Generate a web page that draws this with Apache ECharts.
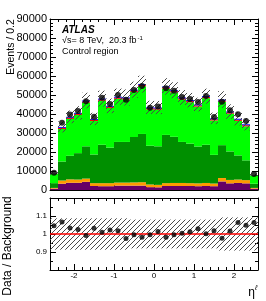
<!DOCTYPE html>
<html><head><meta charset="utf-8">
<script src="https://cdn.jsdelivr.net/npm/echarts@6/dist/echarts.min.js"></script>
<style>html,body{margin:0;padding:0;background:#fff}#c{width:266px;height:301px}</style>
</head><body><div id="c"></div>
<script>
// ---- data ----
const binEdges = [-2.6,-2.4,-2.2,-2.0,-1.8,-1.6,-1.4,-1.2,-1.0,-0.8,-0.6,-0.4,-0.2,0.0,0.2,0.4,0.6,0.8,1.0,1.2,1.4,1.6,1.8,2.0,2.2,2.4,2.6];
const dataEvents = [9100,35400,39800,41600,46700,38600,48600,45300,50000,47500,52600,54700,43300,44000,53500,52300,48900,47900,46300,49500,38400,46500,42000,39900,36300,8400];
const bkgPurple = [700,3300,3800,3800,4300,2100,2000,2000,2300,2300,2300,2300,1500,1400,2100,2100,2100,2100,2000,2100,2000,4500,3500,3700,3500,700];
const bkgOrange = [400,1700,1800,1700,1700,1500,1600,1600,1600,1600,1700,1800,1400,1300,1500,1600,1600,1500,1500,1600,1400,1800,1800,1800,1700,400];
const bkgDarkGreen = [2500,10000,12400,13900,17000,15100,20200,18700,21400,21400,23900,25400,20400,20300,25400,24300,21600,20800,19400,20100,15100,17300,15000,12700,10400,2200];
const bkgGreen = [4900,17100,19400,20100,23000,17600,23200,20900,22700,22300,23800,25100,19100,19300,24400,23400,22300,21800,21000,24500,18100,22900,19900,18200,17900,4400];
const bkgRed = [100,600,600,600,600,600,600,600,600,600,600,600,600,600,600,600,600,600,600,600,600,600,600,600,600,100];
const bkgBlue = [100,500,500,500,500,500,500,500,500,500,500,500,500,500,500,500,500,500,500,500,500,500,500,500,500,100];
const bkgRelUnc = [0.087,0.087,0.087,0.087,0.087,0.087,0.087,0.087,0.087,0.087,0.08,0.08,0.08,0.08,0.08,0.08,0.08,0.08,0.08,0.08,0.08,0.092,0.092,0.092,0.092,0.092];
const xTickLabels = [-2,-1,0,1,2];
const ratioTickLabels = [0.9,1,1.1];

// ---- build ----
const nb = dataEvents.length;
const layers = [
  {vals: bkgPurple, color: '#660066'},
  {vals: bkgOrange, color: '#ff9900'},
  {vals: bkgDarkGreen, color: '#008f00'},
  {vals: bkgGreen, color: '#00ff00'},
  {vals: bkgRed, color: '#ff0000'},
  {vals: bkgBlue, color: '#0000ff'}
];
const cum = new Array(nb).fill(0);
const layerData = layers.map(l => l.vals.map((v, i) => {
  const b = cum[i]; cum[i] += v;
  return [binEdges[i], binEdges[i+1], b, cum[i]];
}));
const total = cum.slice();
const centers = dataEvents.map((_, i) => (binEdges[i] + binEdges[i+1]) / 2);
const hatchMain = total.map((t, i) => [binEdges[i], binEdges[i+1], t*(1-bkgRelUnc[i]), t*(1+bkgRelUnc[i])]);
const hatchRatio = total.map((t, i) => [binEdges[i], binEdges[i+1], 1-bkgRelUnc[i], 1+bkgRelUnc[i]]);
const ratio = dataEvents.map((d, i) => [centers[i], d / total[i]]);

function makeHatch() {
  const n = 5;
  const c = document.createElement('canvas'); c.width = n; c.height = n;
  const g = c.getContext('2d'); g.fillStyle = '#4a4a4a';
  for (let i = 0; i < n; i++) g.fillRect(i, n - 1 - i, 1, 1);
  return c;
}
const hatchFill = {image: makeHatch(), repeat: 'repeat'};

function rectRenderer(fill) {
  return function (params, api) {
    const p0 = api.coord([api.value(0), api.value(3)]);
    const p1 = api.coord([api.value(1), api.value(2)]);
    const x0 = Math.round(p0[0]), x1 = Math.round(p1[0]);
    return {type: 'rect', shape: {x: x0, y: p0[1], width: x1 - x0, height: p1[1] - p0[1]},
            style: {fill: fill, stroke: null}};
  };
}

const FONT = '"Liberation Sans", Arial, sans-serif';
function xAx(grid, pos, labels) {
  return {type: 'value', gridIndex: grid, position: pos, min: -2.6, max: 2.6, splitNumber: 5,
    axisLine: {show: true, onZero: false, lineStyle: {color: '#000', width: 1}},
    axisTick: {show: true, inside: true, length: 6, lineStyle: {color: '#000', width: 1}},
    minorTick: {show: true, splitNumber: 5, length: 3, lineStyle: {color: '#000', width: 1}},
    splitLine: {show: false},
    axisLabel: {show: labels, fontSize: 8, fontFamily: FONT, color: '#000', margin: 2,
      formatter: v => xTickLabels.some(t => Math.abs(t - v) < 1e-6) ? String(Math.round(v)) : ''}
  };
}
function yAx(grid, pos, labels, min, max, interval, minorSplit, fs, fmt) {
  return {type: 'value', gridIndex: grid, position: pos, min: min, max: max, interval: interval,
    axisLine: {show: true, onZero: false, lineStyle: {color: '#000', width: 1}},
    axisTick: {show: true, inside: true, length: 6, lineStyle: {color: '#000', width: 1}},
    minorTick: {show: true, splitNumber: minorSplit, length: 3, lineStyle: {color: '#000', width: 1}},
    splitLine: {show: false},
    axisLabel: {show: labels, fontSize: fs, fontFamily: FONT, color: '#000', margin: 3, formatter: fmt}
  };
}

const series = [];
layers.forEach((l, k) => {
  series.push({type: 'custom', xAxisIndex: 0, yAxisIndex: 0, renderItem: rectRenderer(l.color),
    data: layerData[k], z: 2 + k, clip: true, silent: true, animation: false});
});
series.push({type: 'custom', xAxisIndex: 0, yAxisIndex: 0, renderItem: rectRenderer(hatchFill),
  data: hatchMain, z: 10, clip: true, silent: true, animation: false});
series.push({type: 'scatter', xAxisIndex: 0, yAxisIndex: 0, symbol: 'circle', symbolSize: 6,
  itemStyle: {color: '#000'}, data: dataEvents.map((d, i) => [centers[i], d]), z: 12, animation: false});
series.push({type: 'custom', xAxisIndex: 2, yAxisIndex: 2, renderItem: rectRenderer(hatchFill),
  data: hatchRatio, z: 3, clip: true, silent: true, animation: false});
series.push({type: 'line', xAxisIndex: 2, yAxisIndex: 2, data: [[binEdges[0], 1], [binEdges[nb], 1]],
  symbol: 'none', lineStyle: {color: '#ff0000', width: 1.5}, z: 5, animation: false});
series.push({type: 'scatter', xAxisIndex: 2, yAxisIndex: 2, symbol: 'circle', symbolSize: 5,
  itemStyle: {color: '#000'}, data: ratio, z: 12, animation: false});

const chart = echarts.init(document.getElementById('c'), null, {renderer: 'canvas'});
chart.setOption({
  backgroundColor: '#fff',
  animation: false,
  grid: [
    {left: 50, top: 19, width: 208, height: 171, containLabel: false, outerBoundsMode: 'none'},
    {left: 50, top: 198, width: 208, height: 72, containLabel: false, outerBoundsMode: 'none'}
  ],
  xAxis: [xAx(0, 'bottom', false), xAx(0, 'top', false), xAx(1, 'bottom', true), xAx(1, 'top', false)],
  yAxis: [
    yAx(0, 'left', true, 0, 90000, 10000, 5, 11, v => String(v)),
    yAx(0, 'right', false, 0, 90000, 10000, 5, 11),
    yAx(1, 'left', true, 0.8, 1.2, 0.1, 2, 8,
      v => ratioTickLabels.some(t => Math.abs(t - v) < 1e-6) ? String(Math.round(v * 10) / 10) : ''),
    yAx(1, 'right', false, 0.8, 1.2, 0.1, 2, 8)
  ],
  series: series,
  graphic: [
    {type: 'text', x: 11, y: 47, rotation: Math.PI / 2, z: 100,
      style: {text: 'Events / 0.2', font: '10.5px ' + FONT, fill: '#000', align: 'center', verticalAlign: 'middle'}},
    {type: 'text', x: 8, y: 246, rotation: Math.PI / 2, z: 100,
      style: {text: 'Data / Background', font: '12px ' + FONT, fill: '#000', align: 'center', verticalAlign: 'middle'}},
    {type: 'text', x: 62, y: 30.5, z: 100,
      style: {text: 'ATLAS', font: 'italic bold 10px ' + FONT, fill: '#000', align: 'left', verticalAlign: 'middle'}},
    {type: 'text', x: 62, y: 41, z: 100,
      style: {text: '√s= 8 TeV,  20.3 fb', font: '9px ' + FONT, fill: '#000', align: 'left', verticalAlign: 'middle'}},
    {type: 'text', x: 137.5, y: 38, z: 100,
      style: {text: '-1', font: '6px ' + FONT, fill: '#000', align: 'left', verticalAlign: 'middle'}},
    {type: 'text', x: 62, y: 51.5, z: 100,
      style: {text: 'Control region', font: '9px ' + FONT, fill: '#000', align: 'left', verticalAlign: 'middle'}},
    {type: 'text', x: 255, y: 293, z: 100,
      style: {text: 'η', font: '12px ' + FONT, fill: '#000', align: 'right', verticalAlign: 'middle'}},
    {type: 'text', x: 255, y: 288, z: 100,
      style: {text: 'ℓ', font: 'italic 7px ' + FONT, fill: '#000', align: 'left', verticalAlign: 'middle'}}
  ]
});
</script>
</body></html>
